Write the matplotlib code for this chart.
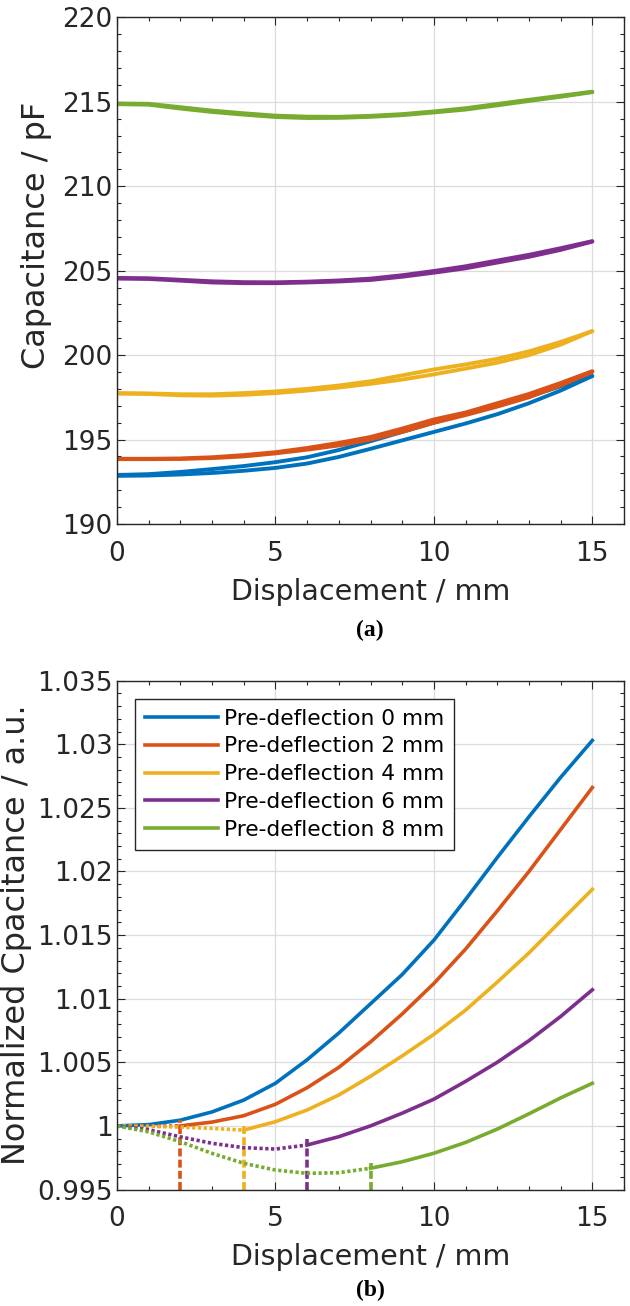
import numpy as np
import matplotlib
matplotlib.use('Agg')
import matplotlib.pyplot as plt
from matplotlib.ticker import MultipleLocator, FuncFormatter

# displacement samples (mm)
x = np.arange(0, 16)

# (a) raw capacitance, two branches per pre-deflection (pF)
blue_up = [192.90, 192.95, 193.08, 193.25, 193.43, 193.66, 193.95, 194.38, 194.90, 195.45, 196.00, 196.50, 197.00, 197.55, 198.15, 198.76]
blue_dn = [192.85, 192.87, 192.93, 193.02, 193.15, 193.32, 193.58, 193.97, 194.45, 194.95, 195.45, 195.95, 196.50, 197.15, 197.90, 198.76]
orange_up = [193.86, 193.86, 193.88, 193.95, 194.08, 194.25, 194.50, 194.80, 195.15, 195.65, 196.19, 196.60, 197.15, 197.70, 198.35, 199.05]
orange_dn = [193.84, 193.84, 193.85, 193.90, 194.00, 194.18, 194.40, 194.65, 195.00, 195.45, 195.99, 196.45, 196.95, 197.50, 198.20, 199.00]
yellow_up = [197.75, 197.73, 197.68, 197.68, 197.75, 197.85, 198.00, 198.20, 198.45, 198.80, 199.15, 199.45, 199.78, 200.22, 200.78, 201.42]
yellow_dn = [197.72, 197.70, 197.62, 197.60, 197.65, 197.75, 197.90, 198.08, 198.30, 198.55, 198.86, 199.20, 199.55, 200.00, 200.62, 201.42]
purple_up = [204.57, 204.55, 204.46, 204.37, 204.32, 204.31, 204.35, 204.42, 204.53, 204.73, 204.98, 205.26, 205.60, 205.94, 206.33, 206.75]
purple_dn = [204.53, 204.51, 204.41, 204.30, 204.26, 204.26, 204.30, 204.36, 204.45, 204.64, 204.88, 205.14, 205.48, 205.82, 206.23, 206.72]
green_up = [214.90, 214.88, 214.68, 214.48, 214.32, 214.18, 214.12, 214.11, 214.17, 214.27, 214.43, 214.62, 214.87, 215.12, 215.36, 215.60]
green_dn = [214.86, 214.83, 214.60, 214.40, 214.24, 214.10, 214.04, 214.05, 214.11, 214.21, 214.37, 214.54, 214.79, 215.05, 215.30, 215.57]

# (b) normalized capacitance: dotted part up to the pre-deflection, solid after
pre_def = [0, 2, 4, 6, 8]
n_dotted = [
    [1.0],
    [1.0, 0.99998, 1.0],
    [1.0, 0.99997, 0.9999, 0.9998, 0.99967],
    [1.0, 0.9997, 0.99914, 0.99863, 0.99829, 0.99818, 0.9985],
    [1.0, 0.99953, 0.99876, 0.99784, 0.99706, 0.99653, 0.99627, 0.99632, 0.99667],
]
n_solid = [
    [1.0, 1.0001, 1.00045, 1.0011, 1.00203, 1.00335, 1.0052, 1.0073, 1.0096, 1.0119, 1.0146, 1.0178, 1.0211, 1.0243, 1.0274, 1.0303],
    [1.0, 1.0003, 1.0008, 1.0017, 1.0030, 1.0046, 1.0066, 1.0088, 1.0112, 1.0139, 1.0169, 1.0200, 1.0233, 1.0266],
    [0.99967, 1.00033, 1.00125, 1.00243, 1.0039, 1.0055, 1.0072, 1.0091, 1.0113, 1.0136, 1.0161, 1.0186],
    [0.9985, 0.99915, 1.0, 1.0010, 1.0021, 1.0035, 1.0050, 1.0067, 1.0086, 1.0107],
    [0.99667, 0.99718, 0.99785, 0.99870, 0.99975, 1.00095, 1.0022, 1.00335],
]
dash_top = [None, 1.00045, 1.0, 0.9990, 0.9971]
labels = ['Pre-deflection 0 mm', 'Pre-deflection 2 mm', 'Pre-deflection 4 mm',
          'Pre-deflection 6 mm', 'Pre-deflection 8 mm']
colors = ['#0072BD', '#D95319', '#EDB120', '#7E2F8E', '#77AC30']

plt.rcParams['font.family'] = ['DejaVu Sans']
ink = '#262626'

fig = plt.figure(figsize=(6.3, 13.06), dpi=100)
ax1 = fig.add_axes([0.1857, 0.5988, 0.8048, 0.3879])
ax2 = fig.add_axes([0.1857, 0.0892, 0.8048, 0.3896])


def style(ax):
    ax.set_xlim(0, 16)
    ax.xaxis.set_major_locator(MultipleLocator(5))
    ax.xaxis.set_minor_locator(MultipleLocator(1))
    ax.tick_params(which='both', direction='in', top=True, right=True,
                   colors=ink, width=0.8, labelsize=19)
    ax.tick_params(axis='x', which='major', pad=12)
    ax.tick_params(axis='y', which='major', pad=3)
    ax.tick_params(which='major', length=6)
    ax.tick_params(which='minor', length=3)
    for s in ax.spines.values():
        s.set_color(ink)
        s.set_linewidth(1.0)
    ax.grid(True, which='major', color='#dcdcdc', linewidth=0.9)
    ax.set_axisbelow(True)
    ax.set_xlabel('Displacement / mm', fontsize=20.5, color=ink, labelpad=8)


# top panel
up = [blue_up, orange_up, yellow_up, purple_up, green_up]
dn = [blue_dn, orange_dn, yellow_dn, purple_dn, green_dn]
for i in range(5):
    ax1.plot(x, up[i], color=colors[i], lw=2.8, solid_capstyle='round')
    ax1.plot(x, dn[i], color=colors[i], lw=2.8, solid_capstyle='round')
style(ax1)
ax1.set_ylim(190, 220)
ax1.yaxis.set_major_locator(MultipleLocator(5))
ax1.yaxis.set_minor_locator(MultipleLocator(1))
ax1.set_ylabel('Capacitance / pF', fontsize=23, color=ink)
ax1.yaxis.set_label_coords(-0.128, 0.57)

# bottom panel
handles = []
for i in range(5):
    d = pre_def[i]
    xs = np.arange(d, 16)
    if d > 0:
        xd = np.arange(0, d + 1)
        ax2.plot(xd, n_dotted[i], color=colors[i], lw=2.6,
                 linestyle=(0, (0.9, 0.7)))
        ax2.plot([d, d], [0.995, dash_top[i]], color=colors[i], lw=2.6,
                 linestyle=(0, (2.2, 0.9)))
    h, = ax2.plot(xs, n_solid[i], color=colors[i], lw=2.6, label=labels[i])
    handles.append(h)
style(ax2)
ax2.set_ylim(0.995, 1.035)
ax2.set_yticks([0.995, 1.0, 1.005, 1.01, 1.015, 1.02, 1.025, 1.03, 1.035])
ax2.yaxis.set_minor_locator(MultipleLocator(0.001))
ax2.yaxis.set_major_formatter(FuncFormatter(lambda v, p: '%g' % round(v, 4)))
ax2.set_ylabel('Normalized Cpacitance / a.u.', fontsize=23, color=ink, labelpad=4)
leg = ax2.legend(handles=handles, loc='upper left', bbox_to_anchor=(0.0355, 0.9646),
                 borderaxespad=0, fontsize=15.7, handlelength=3.35,
                 handletextpad=0.3, labelspacing=0.36, borderpad=0.45,
                 fancybox=False, framealpha=1, edgecolor=ink)
leg.get_frame().set_linewidth(1.0)

# panel captions
fig.text(0.5877, 1 - 630 / 1306, '(a)', ha='center', va='center',
         fontsize=17, fontweight='bold', family='Liberation Serif')
fig.text(0.5877, 1 - 1290 / 1306, '(b)', ha='center', va='center',
         fontsize=17, fontweight='bold', family='Liberation Serif')

fig.savefig('out.png', dpi=100)
